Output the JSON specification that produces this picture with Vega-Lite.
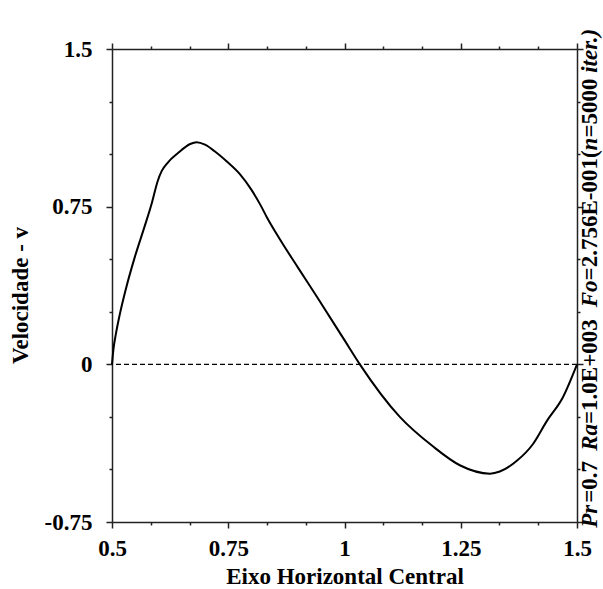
{
  "$schema": "https://vega.github.io/schema/vega-lite/v6.json",
  "width": 465,
  "height": 473,
  "autosize": {"type": "none"},
  "padding": {"left": 112, "top": 49, "right": 26, "bottom": 67},
  "background": "white",
  "config": {
    "view": {"stroke": null},
    "axis": {
      "grid": false,
      "domainColor": "#222",
      "domainWidth": 1.5,
      "tickColor": "#222",
      "tickWidth": 1.5,
      "labelFont": "Liberation Serif",
      "labelFontWeight": "bold",
      "labelFontSize": 23,
      "labelColor": "#000",
      "titleFont": "Liberation Serif",
      "titleFontWeight": "bold",
      "titleFontSize": 23,
      "titleColor": "#000",
      "labelOverlap": false,
      "labelFlush": false
    }
  },
  "data": {
    "values": [
      {"x": 0.5, "v": 0},
      {"x": 0.503, "v": 0.07},
      {"x": 0.508, "v": 0.14},
      {"x": 0.517, "v": 0.24},
      {"x": 0.53, "v": 0.36},
      {"x": 0.549, "v": 0.51},
      {"x": 0.57, "v": 0.655},
      {"x": 0.586, "v": 0.77},
      {"x": 0.598, "v": 0.87},
      {"x": 0.607, "v": 0.92},
      {"x": 0.62, "v": 0.96},
      {"x": 0.642, "v": 1.005},
      {"x": 0.668, "v": 1.048},
      {"x": 0.682, "v": 1.057},
      {"x": 0.7, "v": 1.045},
      {"x": 0.72, "v": 1.015},
      {"x": 0.747, "v": 0.965},
      {"x": 0.775, "v": 0.905},
      {"x": 0.8, "v": 0.83},
      {"x": 0.82, "v": 0.755},
      {"x": 0.833, "v": 0.7},
      {"x": 0.861, "v": 0.595},
      {"x": 0.9, "v": 0.46},
      {"x": 0.941, "v": 0.32},
      {"x": 1.0, "v": 0.115},
      {"x": 1.033, "v": 0},
      {"x": 1.119, "v": -0.25},
      {"x": 1.19, "v": -0.39},
      {"x": 1.248, "v": -0.48},
      {"x": 1.313, "v": -0.52},
      {"x": 1.334, "v": -0.51},
      {"x": 1.37, "v": -0.46},
      {"x": 1.405, "v": -0.38},
      {"x": 1.435, "v": -0.27},
      {"x": 1.47, "v": -0.155},
      {"x": 1.5, "v": 0}
    ]
  },
  "resolve": {"axis": {"x": "independent", "y": "independent"}},
  "layer": [
    {
      "mark": {"type": "line", "color": "#000", "strokeWidth": 2, "interpolate": "monotone"},
      "encoding": {
        "x": {
          "field": "x", "type": "quantitative",
          "scale": {"domain": [0.5, 1.5], "nice": false, "zero": false},
          "axis": {
            "orient": "bottom",
            "values": [0.5, 0.5833333333, 0.6666666667, 0.75, 0.8333333333, 0.9166666667, 1, 1.0833333333, 1.1666666667, 1.25, 1.3333333333, 1.4166666667, 1.5],
            "labelExpr": "abs(datum.value*4-round(datum.value*4))<0.001 ? ''+datum.value : ''",
            "tickSize": {"condition": {"test": "abs(datum.value*4-round(datum.value*4))<0.001", "value": 6}, "value": 3},
            "labelPadding": 9,
            "title": "Eixo Horizontal Central",
            "titlePadding": 5
          }
        },
        "y": {
          "field": "v", "type": "quantitative",
          "scale": {"domain": [-0.75, 1.5], "nice": false, "zero": false},
          "axis": {
            "orient": "left",
            "values": [-0.75, -0.5, -0.25, 0, 0.25, 0.5, 0.75, 1, 1.25, 1.5],
            "labelExpr": "abs(datum.value/0.75-round(datum.value/0.75))<0.001 ? ''+datum.value : ''",
            "tickSize": {"condition": {"test": "abs(datum.value/0.75-round(datum.value/0.75))<0.001", "value": 6}, "value": 3},
            "labelPadding": 14,
            "title": "Velocidade - v",
            "titlePadding": 12,
            "titleY": 246
          }
        }
      }
    },
    {
      "mark": {"type": "point", "opacity": 0},
      "encoding": {
        "x": {
          "field": "x", "type": "quantitative",
          "axis": {
            "orient": "top",
            "values": [0.5, 0.5833333333, 0.6666666667, 0.75, 0.8333333333, 0.9166666667, 1, 1.0833333333, 1.1666666667, 1.25, 1.3333333333, 1.4166666667, 1.5],
            "labels": false,
            "tickSize": {"condition": {"test": "abs(datum.value*4-round(datum.value*4))<0.001", "value": 6}, "value": 3},
            "title": null
          }
        },
        "y": {
          "field": "v", "type": "quantitative",
          "axis": {
            "orient": "right",
            "values": [-0.75, -0.5, -0.25, 0, 0.25, 0.5, 0.75, 1, 1.25, 1.5],
            "labels": false,
            "tickSize": {"condition": {"test": "abs(datum.value/0.75-round(datum.value/0.75))<0.001", "value": 6}, "value": 3},
            "title": null
          }
        }
      }
    },
    {
      "data": {"values": [{}]},
      "mark": {"type": "rule", "color": "#000", "strokeWidth": 1.2, "strokeDash": [5, 3]},
      "encoding": {"y": {"datum": 0, "type": "quantitative", "axis": null}}
    },
    {
      "data": {"values": [{}]},
      "mark": {"type": "text", "angle": 270, "align": "left", "baseline": "middle", "dy": 13, "font": "Liberation Serif", "fontSize": 23, "fontWeight": "bold", "fontStyle": "italic", "color": "#000"},
      "encoding": {"x": {"datum": 1.5, "type": "quantitative", "axis": null}, "y": {"datum": -0.7774, "type": "quantitative", "axis": null}, "text": {"value": "Pr"}}
    },
    {
      "data": {"values": [{}]},
      "mark": {"type": "text", "angle": 270, "align": "left", "baseline": "middle", "dy": 13, "font": "Liberation Serif", "fontSize": 23, "fontWeight": "bold", "color": "#000"},
      "encoding": {"x": {"datum": 1.5, "type": "quantitative", "axis": null}, "y": {"datum": -0.6584, "type": "quantitative", "axis": null}, "text": {"value": "=0.7"}}
    },
    {
      "data": {"values": [{}]},
      "mark": {"type": "text", "angle": 270, "align": "left", "baseline": "middle", "dy": 13, "font": "Liberation Serif", "fontSize": 23, "fontWeight": "bold", "fontStyle": "italic", "color": "#000"},
      "encoding": {"x": {"datum": 1.5, "type": "quantitative", "axis": null}, "y": {"datum": -0.4115, "type": "quantitative", "axis": null}, "text": {"value": "Ra"}}
    },
    {
      "data": {"values": [{}]},
      "mark": {"type": "text", "angle": 270, "align": "left", "baseline": "middle", "dy": 13, "font": "Liberation Serif", "fontSize": 23, "fontWeight": "bold", "color": "#000"},
      "encoding": {"x": {"datum": 1.5, "type": "quantitative", "axis": null}, "y": {"datum": -0.284, "type": "quantitative", "axis": null}, "text": {"value": "=1.0E+003"}}
    },
    {
      "data": {"values": [{}]},
      "mark": {"type": "text", "angle": 270, "align": "left", "baseline": "middle", "dy": 13, "font": "Liberation Serif", "fontSize": 23, "fontWeight": "bold", "fontStyle": "italic", "color": "#000"},
      "encoding": {"x": {"datum": 1.5, "type": "quantitative", "axis": null}, "y": {"datum": 0.2716, "type": "quantitative", "axis": null}, "text": {"value": "Fo"}}
    },
    {
      "data": {"values": [{}]},
      "mark": {"type": "text", "angle": 270, "align": "left", "baseline": "middle", "dy": 13, "font": "Liberation Serif", "fontSize": 23, "fontWeight": "bold", "color": "#000"},
      "encoding": {"x": {"datum": 1.5, "type": "quantitative", "axis": null}, "y": {"datum": 0.3991, "type": "quantitative", "axis": null}, "text": {"value": "=2.756E-001("}}
    },
    {
      "data": {"values": [{}]},
      "mark": {"type": "text", "angle": 270, "align": "left", "baseline": "middle", "dy": 13, "font": "Liberation Serif", "fontSize": 23, "fontWeight": "bold", "fontStyle": "italic", "color": "#000"},
      "encoding": {"x": {"datum": 1.5, "type": "quantitative", "axis": null}, "y": {"datum": 1.0176, "type": "quantitative", "axis": null}, "text": {"value": "n"}}
    },
    {
      "data": {"values": [{}]},
      "mark": {"type": "text", "angle": 270, "align": "left", "baseline": "middle", "dy": 13, "font": "Liberation Serif", "fontSize": 23, "fontWeight": "bold", "color": "#000"},
      "encoding": {"x": {"datum": 1.5, "type": "quantitative", "axis": null}, "y": {"datum": 1.0785, "type": "quantitative", "axis": null}, "text": {"value": "=5000"}}
    },
    {
      "data": {"values": [{}]},
      "mark": {"type": "text", "angle": 270, "align": "left", "baseline": "middle", "dy": 13, "font": "Liberation Serif", "fontSize": 23, "fontWeight": "bold", "fontStyle": "italic", "color": "#000"},
      "encoding": {"x": {"datum": 1.5, "type": "quantitative", "axis": null}, "y": {"datum": 1.3866, "type": "quantitative", "axis": null}, "text": {"value": "iter.)"}}
    }
  ]
}
